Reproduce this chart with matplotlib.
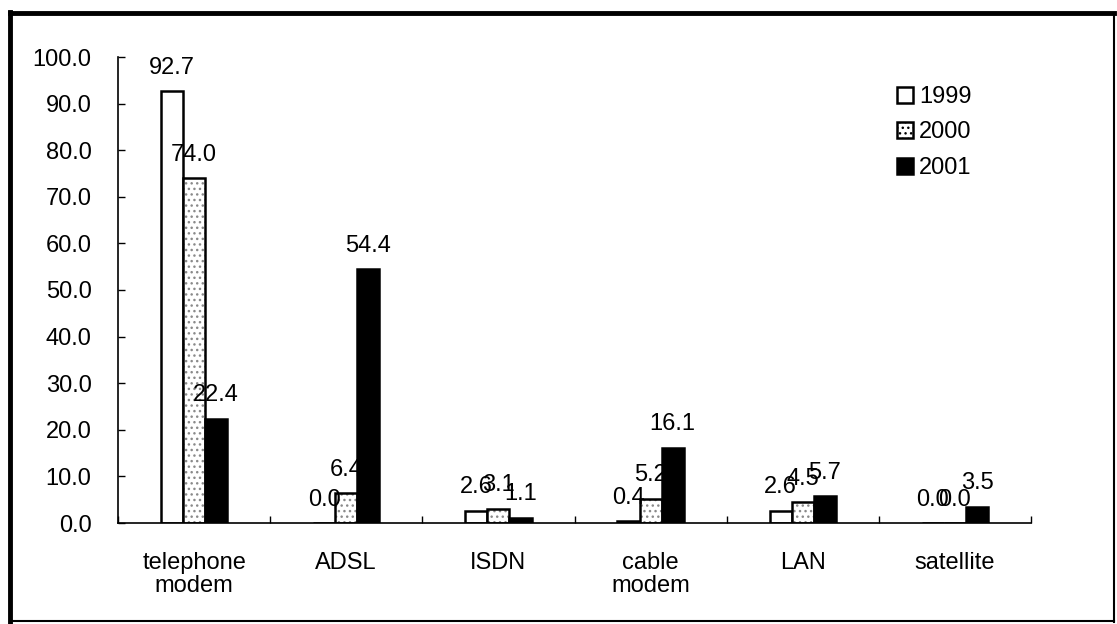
import numpy as np
import matplotlib
matplotlib.use("Agg")
import matplotlib.pyplot as plt
from matplotlib.patches import Patch
from matplotlib.lines import Line2D

# Data (%)
categories = ["telephone\nmodem", "ADSL", "ISDN", "cable\nmodem", "LAN", "satellite"]
years = ["1999", "2000", "2001"]
vals_1999 = [92.7, 0.0, 2.6, 0.4, 2.6, 0.0]
vals_2000 = [74.0, 6.4, 3.1, 5.2, 4.5, 0.0]
vals_2001 = [22.4, 54.4, 1.1, 16.1, 5.7, 3.5]
y_ticks = np.arange(0, 101, 10)

plt.rcParams['font.family'] = ['Liberation Sans', 'DejaVu Sans']
plt.rcParams['hatch.linewidth'] = 1.0
FS = 17

W, H = 1117, 624
fig = plt.figure(figsize=(W / 100, H / 100), dpi=100)
ax = fig.add_axes([118 / W, 1 - 523 / H, (1031 - 118) / W, (523 - 57) / H])

x = np.arange(len(categories))
bw = 0.145
series = [vals_1999, vals_2000, vals_2001]

for k, vals in enumerate(series):
    pos = x + (k - 1) * bw
    if k == 0:
        ax.bar(pos, vals, bw, facecolor='white', edgecolor='black', linewidth=1.8, zorder=2)
    elif k == 1:
        # speckled fill, then outline on top
        ax.bar(pos, vals, bw, facecolor='white', edgecolor='#8a8a8a', hatch='...',
               linewidth=0, zorder=2)
        ax.bar(pos, vals, bw, facecolor='none', edgecolor='black', linewidth=1.8, zorder=3)
    else:
        ax.bar(pos, vals, bw, facecolor='black', edgecolor='black', linewidth=1.8, zorder=2)
    for xp, v in zip(pos, vals):
        ax.annotate(f"{v:.1f}", (xp, v), xytext=(0, 9), textcoords='offset points',
                    ha='center', va='bottom', fontsize=FS, zorder=5)

ax.set_xlim(-0.5, len(categories) - 0.5)
ax.set_ylim(0, 100)
ax.set_yticks(y_ticks)
ax.set_yticklabels([f"{t:.1f}" for t in y_ticks], fontsize=FS)
ax.tick_params(axis='y', direction='in', length=5, width=1, pad=19)

ax.set_xticks(np.arange(-0.5, len(categories)), minor=False)
ax.set_xticklabels([])
ax.set_xticks(x, minor=True)
ax.set_xticklabels(categories, minor=True, fontsize=FS, linespacing=1.05)
ax.tick_params(axis='x', which='major', direction='in', length=5, width=1)
ax.tick_params(axis='x', which='minor', length=0, pad=21)

for s in ['top', 'right']:
    ax.spines[s].set_visible(False)
ax.spines['left'].set_linewidth(1.2)
ax.spines['bottom'].set_linewidth(1.2)

handles = [
    Patch(facecolor='white', edgecolor='black', linewidth=1.8),
    Patch(facecolor='white', edgecolor='black', linewidth=1.8, hatch='...'),
    Patch(facecolor='black', edgecolor='black', linewidth=1.8),
]
fig.legend(handles, years, loc='upper left', bbox_to_anchor=(897 / W, 1 - 86 / H),
           frameon=False, fontsize=FS, handlelength=0.68, handleheight=0.68,
           handletextpad=0.25, labelspacing=0.57, borderaxespad=0, borderpad=0)

# outer frame of the picture
fig.add_artist(Line2D([10 / W, 10 / W], [1 - 12 / H, 1 - 622 / H], color='black', lw=3.5))
fig.add_artist(Line2D([10 / W, 1114 / W], [1 - 13 / H, 1 - 13 / H], color='black', lw=3.5))
fig.add_artist(Line2D([1114 / W, 1114 / W], [1 - 13 / H, 1 - 622 / H], color='black', lw=1.5))
fig.add_artist(Line2D([10 / W, 1114 / W], [1 - 621 / H, 1 - 621 / H], color='black', lw=1.5))

fig.savefig("out.png", dpi=100)
